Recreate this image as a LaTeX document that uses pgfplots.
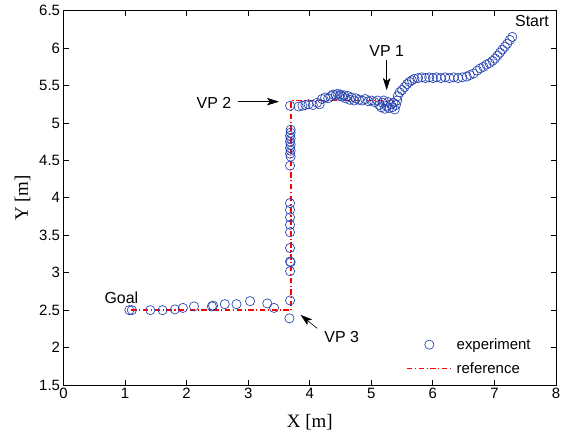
\documentclass[border=0pt]{standalone}
\usepackage{fontspec}
\setmainfont{Liberation Sans}
\newfontfamily\seriffont{Liberation Serif}
\usepackage{pgfplots}
\pgfplotsset{compat=1.18}
\usetikzlibrary{arrows.meta}
\definecolor{mblue}{RGB}{35,65,175}
\begin{document}
\begin{tikzpicture}
\begin{axis}[
  scale only axis, width=492.5bp, height=374.3bp,
  xmin=0, xmax=8, ymin=1.5, ymax=6.5,
  xtick={0,1,2,3,4,5,6,7,8},
  ytick={1.5,2,2.5,3,3.5,4,4.5,5,5.5,6,6.5},
  tick align=inside, tick pos=both, major tick length=5bp,
  axis line style={line width=0.8bp},
  every tick/.style={black, line width=0.8bp},
  /pgf/number format/assume math mode=true,
  ticklabel style={font=\fontsize{15}{18}\selectfont},
  xlabel={X [m]}, ylabel={Y [m]},
  label style={font=\seriffont\fontsize{19}{22}\selectfont},
  xlabel style={yshift=-8bp},
  ylabel style={yshift=2bp},
  legend image code/.code={\draw[mark repeat=2,mark phase=2,#1] plot coordinates {(0bp,0bp) (22.5bp,0bp) (45bp,0bp)};},
  legend style={draw=none, fill=none, inner sep=0pt, at={(axis cs:5.56,1.88)}, anchor=west,
    font=\fontsize{15}{18}\selectfont, row sep=7.5bp,
    nodes={inner xsep=4bp}},
  legend cell align=left,
  clip=false,
]
\addplot[only marks, mark=o, mark size=4.6bp, color=mblue, mark options={line width=0.65bp}] coordinates {
(3.68,5.23) (3.82,5.22) (3.88,5.23) (3.93,5.24) (3.98,5.25) (4.05,5.24) (4.12,5.27) (4.16,5.25)
(4.20,5.32) (4.25,5.34) (4.30,5.33) (4.35,5.36) (4.38,5.38) (4.42,5.37) (4.45,5.39) (4.48,5.36)
(4.50,5.38) (4.53,5.35) (4.56,5.37) (4.58,5.33) (4.62,5.36) (4.65,5.31) (4.68,5.34) (4.72,5.30)
(4.75,5.33) (4.80,5.31) (4.85,5.30) (4.90,5.32) (4.95,5.29) (5.00,5.30) (5.05,5.28) (5.10,5.30)
(5.13,5.24) (5.16,5.21) (5.18,5.27) (5.20,5.30) (5.22,5.19) (5.25,5.23) (5.27,5.28) (5.29,5.20)
(5.32,5.25) (5.34,5.21) (5.36,5.27) (5.38,5.18) (5.40,5.24) (5.42,5.30) (5.43,5.36) (5.46,5.41)
(5.50,5.44) (5.54,5.48) (5.58,5.52) (5.62,5.55) (5.66,5.57) (5.70,5.59) (5.76,5.60) (5.82,5.61)
(5.88,5.60) (5.94,5.61) (6.00,5.60) (6.06,5.61) (6.13,5.60) (6.20,5.61) (6.27,5.60) (6.34,5.61)
(6.41,5.60) (6.48,5.61) (6.55,5.62) (6.60,5.64) (6.66,5.66) (6.72,5.70) (6.77,5.73) (6.82,5.75)
(6.87,5.78) (6.92,5.80) (6.97,5.83) (7.01,5.86) (7.05,5.90) (7.09,5.94) (7.13,5.98) (7.17,6.02)
(7.21,6.06) (7.25,6.11) (7.29,6.15)
(3.69,4.91) (3.69,4.87) (3.68,4.83) (3.69,4.79) (3.68,4.75) (3.69,4.71) (3.68,4.67) (3.69,4.63)
(3.68,4.59) (3.69,4.55) (3.68,4.43) (3.68,3.93) (3.68,3.84) (3.68,3.74) (3.68,3.64) (3.68,3.54)
(3.68,3.33) (3.68,3.15) (3.69,3.14) (3.68,3.02) (3.68,2.63) (3.67,2.39)
(3.42,2.53) (3.31,2.59) (3.03,2.62) (2.81,2.58) (2.62,2.58) (2.43,2.56) (2.41,2.55) (2.12,2.55)
(1.94,2.53) (1.81,2.51) (1.61,2.50) (1.41,2.50) (1.11,2.50) (1.07,2.50)
};
\addlegendentry{experiment}
\addplot[color={rgb,255:red,255;green,0;blue,0}, line width=1.7bp, dash pattern=on 5.5bp off 2.5bp on 1.2bp off 2.5bp] coordinates {
(1.1,2.5) (3.7,2.5) (3.7,5.3) (5.3,5.3)
};
\addlegendentry{reference}
\node[font=\fontsize{16}{19}\selectfont] at (axis cs:7.61,6.36) {Start};
\node[font=\fontsize{16}{19}\selectfont] at (axis cs:5.25,5.955) {VP 1};
\node[font=\fontsize{16}{19}\selectfont] at (axis cs:2.445,5.27) {VP 2};
\node[font=\fontsize{16}{19}\selectfont] at (axis cs:4.52,2.145) {VP 3};
\node[font=\fontsize{16}{19}\selectfont] at (axis cs:0.94,2.67) {Goal};
\draw[-{Stealth[length=12bp,width=7.5bp,inset=3bp]}, line width=0.6bp] (axis cs:5.25,5.84) -- (axis cs:5.25,5.44);
\draw[-{Stealth[length=12bp,width=7.5bp,inset=3bp]}, line width=0.6bp] (axis cs:2.83,5.285) -- (axis cs:3.50,5.285);
\draw[-{Stealth[length=12bp,width=7.5bp,inset=3bp]}, line width=0.6bp] (axis cs:4.12,2.257) -- (axis cs:3.85,2.437);
\end{axis}
\pgfresetboundingbox
\path[use as bounding box] ([shift={(-63.5bp,-47bp)}]current axis.south west) rectangle ([shift={(5bp,10.7bp)}]current axis.north east);
\end{tikzpicture}
\end{document}
